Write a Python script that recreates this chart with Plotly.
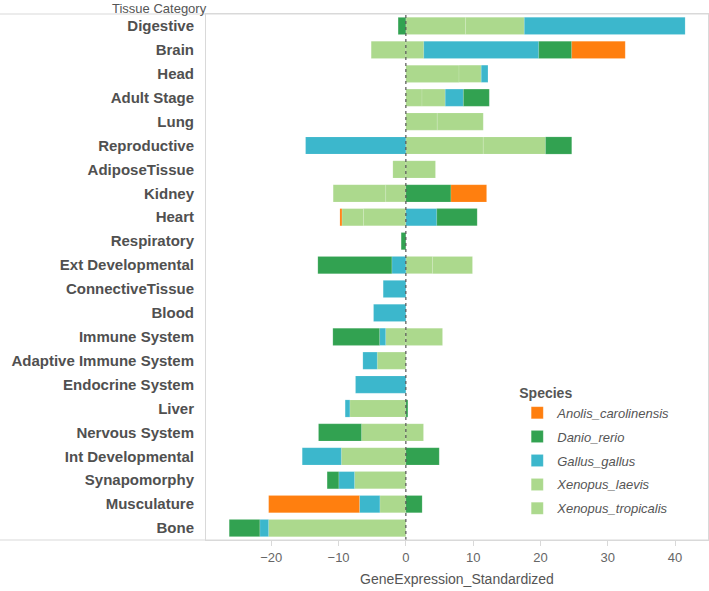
import plotly.graph_objects as go

categories = ["Digestive", "Brain", "Head", "Adult Stage", "Lung", "Reproductive",
              "AdiposeTissue", "Kidney", "Heart", "Respiratory", "Ext Developmental",
              "ConnectiveTissue", "Blood", "Immune System", "Adaptive Immune System",
              "Endocrine System", "Liver", "Nervous System", "Int Developmental",
              "Synapomorphy", "Musculature", "Bone"]

xenopus_laevis = [8.87, 2.67, 7.9, 2.4, 4.66, 11.5, 4.4, -3.0, -6.3, None, 3.96,
                  None, None, 5.45, -4.26, None, -8.32, 2.62, -9.6, -7.63, -3.86, -20.4]
xenopus_tropicalis = [8.73, -5.15, 3.3, 3.45, 6.84, 9.25, -1.93, -7.8, -3.2, None, 5.94,
                      None, None, -3.0, None, None, None, -6.59, None, None, None, None]
gallus_gallus = [23.9, 17.08, 1.0, 2.7, None, -14.9, None, None, 4.6, None, -2.08,
                 -3.37, -4.8, -0.9, -2.13, -7.48, -0.7, None, -5.8, -2.33, -3.03, -1.3]
danio_rerio = [-1.15, 4.9, None, 3.85, None, 3.9, None, 6.7, 6.0, -0.7, -11.0,
               None, None, -6.95, None, None, 0.3, -6.39, 4.96, -1.74, 2.42, -4.55]
anolis_carolinensis = [None, 7.95, None, None, None, None, None, 5.3, -0.3, None, None,
                       None, None, None, None, None, None, None, None, None, -13.5, None]

x_ticks = [-20, -10, 0, 10, 20, 30, 40]

series = [
    ("Xenopus_laevis", xenopus_laevis, "#acd98d", 4),
    ("Xenopus_tropicalis", xenopus_tropicalis, "#acd98d", 5),
    ("Gallus_gallus", gallus_gallus, "#3cb7cc", 3),
    ("Danio_rerio", danio_rerio, "#32a251", 2),
    ("Anolis_carolinensis", anolis_carolinensis, "#ff7f0f", 1),
]

FONT = "Liberation Sans, Arial, sans-serif"

fig = go.Figure()
for name, vals, color, rank in series:
    fig.add_trace(go.Bar(
        name=name, y=categories, x=vals, orientation="h",
        marker=dict(color=color, line=dict(color="rgba(255,255,255,0.22)", width=0.6)),
        legendrank=rank, legendgroup=name,
    ))

fig.update_layout(
    width=709, height=591,
    margin=dict(l=206, r=1, t=14, b=51, pad=0),
    barmode="relative", bargap=0.28,
    plot_bgcolor="white", paper_bgcolor="white",
    font=dict(family=FONT, color="#555555"),
    showlegend=True,
    legend=dict(
        x=0.62, y=0.305, xanchor="left", yanchor="top",
        title=dict(text="Species", font=dict(size=14, weight="bold", color="#555555", style="normal")),
        font=dict(size=13, style="italic", color="#555555"),
        tracegroupgap=4, itemwidth=30, bgcolor="rgba(0,0,0,0)",
    ),
    xaxis=dict(
        range=[-29.7, 44.9], tickvals=x_ticks, showgrid=False, zeroline=False,
        showline=True, linecolor="#d9d9d9", linewidth=1, mirror=True,
        ticks="outside", ticklen=5, tickcolor="#d9d9d9", automargin=False,
        tickfont=dict(size=13, color="#666666"),
        title=dict(text="GeneExpression_Standardized", font=dict(size=14, color="#555555"), standoff=10),
    ),
    yaxis=dict(
        categoryorder="array", categoryarray=categories, autorange="reversed",
        showgrid=False, zeroline=False, showline=True, linecolor="#d9d9d9", mirror=True,
        ticks="", ticklabelstandoff=8, automargin=False,
        tickfont=dict(size=15, weight="bold", color="#505050"),
    ),
    annotations=[dict(
        text="Tissue Category", xref="paper", yref="paper", x=-0.092, y=1.0114,
        xanchor="center", yanchor="middle", showarrow=False, borderpad=0,
        font=dict(size=13, color="#555555"),
    )],
    shapes=[
        dict(type="line", xref="x", yref="paper", x0=0, x1=0, y0=0, y1=1,
             line=dict(color="#555555", width=1.2, dash="dot")),
        dict(type="line", xref="paper", yref="paper", x0=-0.42, x1=1, y0=1, y1=1,
             line=dict(color="#d9d9d9", width=1)),
        dict(type="line", xref="paper", yref="paper", x0=-0.42, x1=1, y0=0, y1=0,
             line=dict(color="#d9d9d9", width=1)),
    ],
)

fig.write_html("out.html", config={"displayModeBar": False},
               post_script="document.body.style.margin='0';")
